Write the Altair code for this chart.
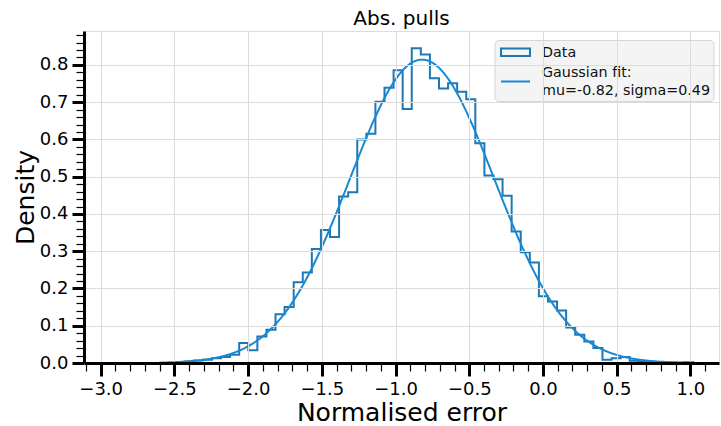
import altair as alt
import numpy as np
import pandas as pd

# ---------------- data ----------------
title_text = "Abs. pulls"
x_title = "Normalised error"
y_title = "Density"

bin_start = -2.430   # left edge of first bin
bin_width = 0.0616
heights = [
    0.004, 0.007, 0.009, 0.013, 0.016, 0.022, 0.054, 0.034, 0.071, 0.089,
    0.131, 0.150, 0.217, 0.243, 0.306, 0.357, 0.338, 0.447, 0.458, 0.600,
    0.615, 0.701, 0.739, 0.786, 0.682, 0.845, 0.828, 0.764, 0.737, 0.751,
    0.728, 0.708, 0.590, 0.503, 0.493, 0.449, 0.353, 0.297, 0.270, 0.179,
    0.165, 0.141, 0.095, 0.076, 0.058, 0.040, 0.009, 0.013, 0.016, 0.006,
    0.004, 0.003, 0.002, 0.001, 0.001, 0.002,
]
fit_mu = -0.82
fit_sigma = 0.49
fit_range = [-2.6, 1.03]
legend_labels = ["Data", "Gaussian fit:", "mu=-0.82, sigma=0.49"]

x_domain = [-3.113, 1.194]
y_domain = [0.0, 0.891]

hist_color = "#1f77b4"
fit_color = "#1789d3"
FONT = "DejaVu Sans"

# ---------------- tables ----------------
edges = bin_start + bin_width * np.arange(len(heights) + 1)
px, py = [edges[0]], [0.0]
for i, h in enumerate(heights):
    px += [edges[i], edges[i + 1]]
    py += [h, h]
px.append(edges[-1])
py.append(0.0)
hist_df = pd.DataFrame({"x": px, "y": py, "o": np.arange(len(px))})

gx = np.linspace(fit_range[0], fit_range[1], 500)
gy = np.exp(-0.5 * ((gx - fit_mu) / fit_sigma) ** 2) / (fit_sigma * np.sqrt(2 * np.pi))
fit_df = pd.DataFrame({"x": gx, "y": gy})

one = pd.DataFrame({"a": [0]})

# ---------------- axes ----------------
x_vals = [float(round(v, 2)) for v in np.arange(-3.1, 1.15, 0.1)]
y_vals = [float(round(v, 2)) for v in np.arange(0.0, 0.885, 0.02)]
x_major = "abs(datum.value*2 - round(datum.value*2)) < 0.001"
y_major = "abs(datum.value*10 - round(datum.value*10)) < 0.001"

x_axis = alt.Axis(
    values=x_vals, tickCount=500,
    title=x_title,
    labelExpr=f"{x_major} ? format(datum.value, '.1f') : ''",
    labelOverlap=False, labelFlush=False,
    labelFont=FONT, labelFontSize=18, labelColor="black", labelPadding=4,
    titleFont=FONT, titleFontSize=25, titleFontWeight="normal", titleColor="black",
    titlePadding=2,
    tickSize={"condition": {"test": x_major, "value": 13}, "value": 8},
    tickWidth={"condition": {"test": x_major, "value": 3}, "value": 1.2},
    tickColor="black",
    grid=True, gridColor="#dcdcdc", gridWidth=1,
    gridOpacity={"condition": {"test": x_major, "value": 1}, "value": 0},
    domain=True, domainColor="black", domainWidth=3, zindex=1,
)
y_axis = alt.Axis(
    values=y_vals, tickCount=500,
    title=y_title,
    labelExpr=f"{y_major} ? format(datum.value, '.1f') : ''",
    labelOverlap=False, labelFlush=False,
    labelFont=FONT, labelFontSize=18, labelColor="black", labelPadding=4,
    titleFont=FONT, titleFontSize=25, titleFontWeight="normal", titleColor="black",
    titlePadding=1,
    tickSize={"condition": {"test": y_major, "value": 12}, "value": 8},
    tickWidth={"condition": {"test": y_major, "value": 3}, "value": 1.2},
    tickColor="black",
    grid=True, gridColor="#dcdcdc", gridWidth=1,
    gridOpacity={"condition": {"test": y_major, "value": 1}, "value": 0},
    domain=True, domainColor="black", domainWidth=3, zindex=1,
)
xs = alt.Scale(domain=x_domain, nice=False, zero=False)
ys = alt.Scale(domain=y_domain, nice=False, zero=False)

hist = alt.Chart(hist_df).mark_line(color=hist_color, strokeWidth=2, strokeJoin="miter").encode(
    x=alt.X("x:Q", scale=xs, axis=x_axis),
    y=alt.Y("y:Q", scale=ys, axis=y_axis),
    order="o:Q",
)
fit = alt.Chart(fit_df).mark_line(color=fit_color, strokeWidth=2).encode(
    x=alt.X("x:Q", scale=xs),
    y=alt.Y("y:Q", scale=ys),
)

# ---------------- legend (guide drawn in pixel space) ----------------
leg_box = alt.Chart(one).mark_rect(
    fill="#f2f2f2", fillOpacity=0.85, stroke="#d6d6d6", strokeWidth=1, cornerRadius=4
).encode(x=alt.value(411), x2=alt.value(630), y=alt.value(9.5), y2=alt.value(70.5))
leg_sym1 = alt.Chart(one).mark_rect(
    fill="transparent", stroke=hist_color, strokeWidth=2
).encode(x=alt.value(417), x2=alt.value(446), y=alt.value(17.5), y2=alt.value(25))
leg_sym2 = alt.Chart(one).mark_rule(color=fit_color, strokeWidth=2).encode(
    x=alt.value(417), x2=alt.value(446), y=alt.value(50.5)
)
leg_t1 = alt.Chart(one).mark_text(
    text=legend_labels[0], align="left", baseline="middle", font=FONT, fontSize=14.3, color="#111"
).encode(x=alt.value(458), y=alt.value(21.5))
leg_t2 = alt.Chart(one).mark_text(
    text=legend_labels[1], align="left", baseline="middle", font=FONT, fontSize=14.3, color="#111"
).encode(x=alt.value(458), y=alt.value(42))
leg_t3 = alt.Chart(one).mark_text(
    text=legend_labels[2], align="left", baseline="middle", font=FONT, fontSize=14.3, color="#111"
).encode(x=alt.value(458), y=alt.value(59.5))

chart = alt.layer(hist, fit, leg_box, leg_sym1, leg_sym2, leg_t1, leg_t2, leg_t3).properties(
    width=635,
    height=332,
    title=alt.TitleParams(title_text, font=FONT, fontSize=20, fontWeight="normal",
                          color="black", anchor="middle", offset=3, dy=6),
    padding={"left": 84, "top": 31, "right": 2, "bottom": 63},
    autosize=alt.AutoSizeParams(type="none"),
).configure_view(
    stroke="black", strokeWidth=3
).configure(background="white")

chart.save("out.html", embed_options={"renderer": "svg", "actions": False})
